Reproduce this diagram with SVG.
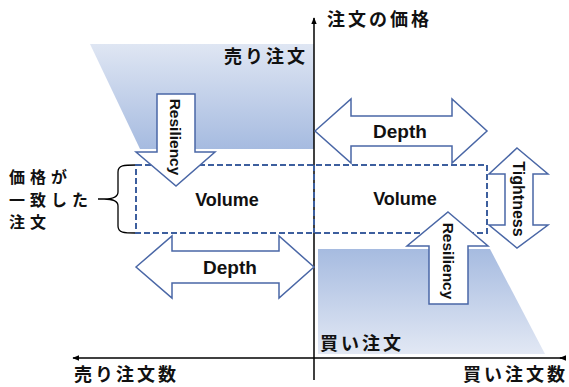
<svg xmlns="http://www.w3.org/2000/svg" width="569" height="387" viewBox="0 0 569 387">
<defs>
<linearGradient id="gSell" x1="0" y1="0" x2="0" y2="1">
<stop offset="0" stop-color="#dfe6f3"/>
<stop offset="1" stop-color="#a6bbe0"/>
</linearGradient>
<linearGradient id="gBuy" x1="0" y1="0" x2="0" y2="1">
<stop offset="0" stop-color="#a6bbe0"/>
<stop offset="1" stop-color="#e2e8f4"/>
</linearGradient>
<marker id="ah" viewBox="0 0 10 10" refX="9" refY="5" markerWidth="7" markerHeight="7" orient="auto-start-reverse" markerUnits="userSpaceOnUse">
<path d="M0,1 L10,5 L0,9 Z" fill="#000"/>
</marker>
<style>
.jp{font-family:"Noto Sans CJK JP","Noto Sans",sans-serif;font-weight:bold;font-size:18px;letter-spacing:3px;fill:#111}
.jps{font-family:"Noto Sans CJK JP","Noto Sans",sans-serif;font-weight:bold;font-size:16px;letter-spacing:5px;fill:#111}
.en{font-family:"Liberation Sans",Arial,sans-serif;font-weight:bold;fill:#111}
.arr{fill:#fff;stroke:#4a67a6;stroke-width:1.5;stroke-linejoin:miter}
.axis{stroke:#000;stroke-width:1.5;fill:none}
.dash{fill:none;stroke:#3d5f9e;stroke-width:2;stroke-dasharray:6,3}
</style>
</defs>

<g id="sell-area">
<polygon points="90,44 314,44 314,149 140,149" fill="url(#gSell)"/>
<text class="jp" x="224" y="63">売り注文</text>
</g>

<g id="buy-area">
<polygon points="318,249 490,249 545,354 318,354" fill="url(#gBuy)"/>
<text class="jp" x="320" y="350">買い注文</text>
</g>

<g id="connectors">
<line class="axis" x1="314" y1="380" x2="314" y2="18" marker-end="url(#ah)"/>
<line class="axis" x1="566" y1="358" x2="73" y2="358" marker-end="url(#ah)"/>
<line class="axis" x1="566" y1="358" x2="560" y2="358" marker-end="url(#ah)"/>
<path d="M136,165 C124,165 118,165 118,172 L118,192 C118,197 113,199 104,199 L98,199 M104,199 C113,199 118,201 118,206 L118,226 C118,233 124,233 136,233" fill="none" stroke="#000" stroke-width="1.3"/>
</g>

<g id="volume-box">
<rect class="dash" x="136" y="165" width="351" height="68"/>
<line class="dash" x1="314" y1="165" x2="314" y2="233"/>
<text class="en" x="227" y="206" font-size="18" text-anchor="middle">Volume</text>
<text class="en" x="405" y="205" font-size="18" text-anchor="middle">Volume</text>
</g>

<g id="depth-top">
<polygon class="arr" points="315,131 351,99 351,116 452,116 452,99 487,131 452,163 452,146 351,146 351,163"/>
<text class="en" x="400" y="138" font-size="19" text-anchor="middle">Depth</text>
</g>

<g id="depth-bottom">
<polygon class="arr" points="136,267 172,236 172,251 279,251 279,236 314,267 279,298 279,283 172,283 172,298"/>
<text class="en" x="230" y="274" font-size="19" text-anchor="middle">Depth</text>
</g>

<g id="resiliency-sell">
<polygon class="arr" points="157,94 195,94 195,152 215,152 176,186 136,152 157,152"/>
<text class="en" x="0" y="0" font-size="15.5" text-anchor="middle" transform="translate(170,137) rotate(90)">Resiliency</text>
</g>

<g id="resiliency-buy">
<polygon class="arr" points="448,212 488,246 468,246 468,304 429,304 429,246 407,246"/>
<text class="en" x="0" y="0" font-size="15.5" text-anchor="middle" transform="translate(443,261) rotate(90)">Resiliency</text>
</g>

<g id="tightness">
<polygon class="arr" points="517,148 548,174 533,174 533,225 548,225 517,248 489,225 505,225 505,174 489,174"/>
<text class="en" x="0" y="0" font-size="16" text-anchor="middle" transform="translate(513,199) rotate(90)">Tightness</text>
</g>

<g id="labels">
<text class="jp" x="327" y="26">注文の価格</text>
<text class="jp" x="74" y="381">売り注文数</text>
<text class="jp" x="463" y="381">買い注文数</text>
<text class="jps" x="9" y="183">価格が</text>
<text class="jps" x="9" y="206">一致した</text>
<text class="jps" x="9" y="228">注文</text>
</g>
</svg>
